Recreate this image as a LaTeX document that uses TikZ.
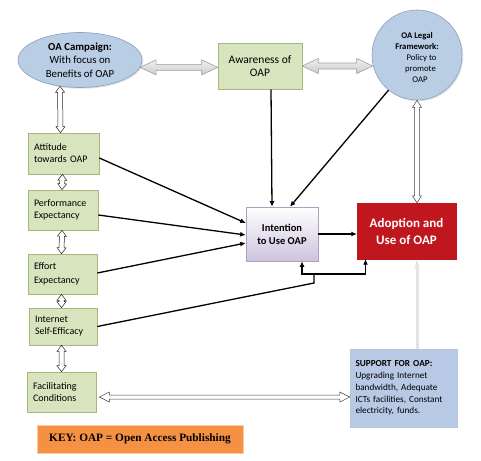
\documentclass[tikz,border=0pt]{standalone}
\usepackage{fontspec}
\setmainfont{Carlito}
\newfontfamily\keyfont{Liberation Serif}
\usetikzlibrary{arrows.meta,shapes.geometric,calc,shadows}
\definecolor{gfill}{RGB}{215,228,189}
\definecolor{gdraw}{RGB}{165,185,125}
\definecolor{bfill}{RGB}{185,205,229}
\definecolor{bdraw}{RGB}{140,160,190}
\definecolor{sfill}{RGB}{184,201,230}
\definecolor{redbox}{RGB}{192,22,30}
\definecolor{lav}{RGB}{205,195,222}
\definecolor{lavdraw}{RGB}{170,160,190}
\definecolor{keyor}{RGB}{245,145,68}
\tikzset{
  shad/.style={drop shadow={shadow xshift=1.2pt,shadow yshift=-1.2pt,opacity=0.25}},
  gbox/.style={rectangle, fill=gfill, draw=gdraw, line width=0.6pt, shad, font=\fontsize{10}{12}\selectfont, align=left, inner xsep=6pt},
  oval/.style={ellipse, fill=bfill, draw=bdraw, line width=0.6pt, shad, font=\fontsize{10.8}{13.5}\selectfont, align=center, inner sep=0pt},
  blk/.style={line width=1.3pt, -{Latex[length=5.5pt,width=5pt]}},
  % hollow double-headed arrow outline: #1 head length, #2 head half width, #3 shaft half width
  harrow/.style n args={3}{line join=miter, to path={
    (\tikztostart)
    -- ($(\tikztostart)!#1!(\tikztotarget)!#2!90:(\tikztotarget)$)
    -- ($(\tikztostart)!#1!(\tikztotarget)!#3!90:(\tikztotarget)$)
    -- ($(\tikztotarget)!#1!(\tikztostart)!#3!-90:(\tikztostart)$)
    -- ($(\tikztotarget)!#1!(\tikztostart)!#2!-90:(\tikztostart)$)
    -- (\tikztotarget)
    -- ($(\tikztotarget)!#1!(\tikztostart)!#2!90:(\tikztostart)$)
    -- ($(\tikztotarget)!#1!(\tikztostart)!#3!90:(\tikztostart)$)
    -- ($(\tikztostart)!#1!(\tikztotarget)!#3!-90:(\tikztotarget)$)
    -- ($(\tikztostart)!#1!(\tikztotarget)!#2!-90:(\tikztotarget)$)
    -- cycle}},
  dbl/.style={harrow={6pt}{4.5pt}{2.5pt}, fill=white, draw=black!85, line width=0.5pt},
  fat/.style={harrow={16pt}{7.5pt}{3pt}, top color=gray!12, bottom color=gray!40, draw=gray!75, line width=0.6pt},
}
\begin{document}
\begin{tikzpicture}[x=1pt,y=-1pt]
\useasboundingbox[fill=white] (0,0) rectangle (481,460);

% nodes
\node[oval, minimum width=124pt, minimum height=55pt] (camp) at (80,60)
  {\textbf{OA Campaign:}\\With focus on\\Benefits of OAP};
\node[gbox, align=center, minimum width=84pt, minimum height=46pt, font=\fontsize{11.5}{13.5}\selectfont] (aware) at (260,66)
  {Awareness of\\OAP};
\node[circle, fill=bfill, draw=bdraw, line width=0.6pt, shad, inner sep=0pt, minimum size=90pt] (legal) at (417,55) {};
\node[align=center, inner sep=0pt, font=\fontsize{8.7}{11.2}\selectfont] (legaltxt) at (417,57.5)
  {\textbf{OA Legal}\\\textbf{Framework:}\\\hspace*{9pt}Policy to\\\hspace*{7pt}promote\\\hspace*{6pt}OAP};

\node[gbox, minimum width=71pt, minimum height=41pt, text width=59pt] (att) at (63.5,153.5)
  {Attitude\\towards OAP};
\node[gbox, minimum width=70pt, minimum height=40pt, text width=58pt] (perf) at (63,210)
  {Performance\\Expectancy};
\node[gbox, minimum width=69pt, minimum height=40pt, text width=57pt, font=\fontsize{10}{14}\selectfont] (eff) at (62.5,274)
  {Effort\\Expectancy};
\node[gbox, minimum width=68pt, minimum height=37pt, text width=56pt] (inet) at (63,326.5)
  {Internet\\Self-Efficacy};
\node[gbox, minimum width=67pt, minimum height=40pt, text width=57pt] (fac) at (61.5,392)
  {Facilitating\\Conditions};

\node[rectangle, top color=white, bottom color=lav, draw=lavdraw, line width=0.6pt, shad,
      minimum width=72pt, minimum height=54pt, align=center, font=\bfseries\fontsize{10.5}{13}\selectfont] (intent) at (282,234)
  {Intention\\to Use OAP};
\node[rectangle, fill=redbox, draw=redbox, shad, minimum width=99pt, minimum height=56pt,
      align=center, text=white, font=\bfseries\fontsize{13}{17}\selectfont] (adopt) at (406.5,231)
  {Adoption and\\Use of OAP};
\node[rectangle, fill=sfill, draw=bdraw!60, line width=0.4pt, shad, minimum width=107pt, minimum height=78pt,
      text width=96pt, align=left, inner xsep=5pt, font=\fontsize{9.2}{11.8}\selectfont] (supp) at (403.5,388)
  {\textbf{SUPPORT FOR OAP:}\\Upgrading Internet\\bandwidth, Adequate\\ICTs facilities, Constant\\electricity, funds.};
\node[rectangle, fill=keyor, draw=keyor!50, line width=0.8pt, shad, minimum width=206pt, minimum height=28pt,
      font=\keyfont\bfseries\fontsize{11.3}{13}\selectfont] (key) at (140,439)
  {KEY: OAP = Open Access Publishing};

% helper coordinates
\coordinate (c1) at (camp.-7);
\coordinate (a1) at (c1 -| aware.west);
\coordinate (a2) at (aware.east);
\coordinate (l1) at (a2 -| legal.west);
\coordinate (l1) at ($(l1)+(1,0)$);
\coordinate (ca) at ($(camp.south)+(-20,-1.5)$);
\coordinate (cb) at ($(att.north)+(-3,0)$);
\coordinate (p1) at ($(att.south)+(-1,0)$);
\coordinate (p2) at ($(perf.north)+(-1,0)$);
\coordinate (e1) at ($(perf.south)+(-1,0)$);
\coordinate (e2) at ($(eff.north)+(-1,0)$);
\coordinate (i1) at ($(eff.south)+(-1,0)$);
\coordinate (i2) at ($(inet.north)+(-1.5,0)$);
\coordinate (f1) at ($(inet.south)+(-1.5,0)$);
\coordinate (f2) at ($(fac.north)+(0,0)$);
\coordinate (fa) at ($(fac.east)+(3,5)$);
\coordinate (sa) at (fa -| supp.west);
\coordinate (lg) at (legal.south);
\coordinate (ad) at (lg |- adopt.north);
\coordinate (su) at (lg |- supp.north);
\coordinate (as) at (lg |- adopt.south);

% hollow double arrows
\draw[fat] (c1) to (a1);
\draw[fat] (a2) to (l1);
\draw[dbl] (ca) to (cb);
\draw[dbl] (p1) to (p2);
\draw[dbl] (e1) to (e2);
\draw[dbl] (i1) to (i2);
\draw[dbl] (f1) to (f2);
\draw[harrow={10pt}{5pt}{2pt}, fill=white, draw=black!75, line width=0.5pt] (fa) to (sa);
\draw[harrow={7pt}{4.5pt}{2.5pt}, fill=white, draw=black!75, line width=0.5pt] (lg) to (ad);
\draw[line width=3pt, draw=gray!22, -{Stealth[length=10pt,width=5pt]}] (su) -- (as);

% black arrows
\draw[blk] ($(att.east)+(0,4.5)$) -- ($(intent.west)+(0,-11)$);
\draw[blk] ($(perf.east)+(0,5)$) -- ($(intent.west)+(0,1)$);
\draw[blk] ($(eff.east)+(0,-1)$) -- ($(intent.west)+(0,9)$);
\coordinate (J) at (314,283);
\coordinate (T) at (314,274);
\draw[line width=1.3pt] (inet.east) -- (J) -- (T);
\draw[blk] (T) -| ($(intent.south)+(20,0)$);
\draw[blk] (T) -| ($(adopt.south)+(-41,0)$);
\draw[blk] ($(aware.south)+(11,0)$) -- ($(intent.north)+(-10,0)$);
\draw[blk] (legal.231) -- ($(intent.north)+(8,0)$);
\draw[blk] (intent.east) -- (intent.east -| adopt.west);
\end{tikzpicture}
\end{document}
